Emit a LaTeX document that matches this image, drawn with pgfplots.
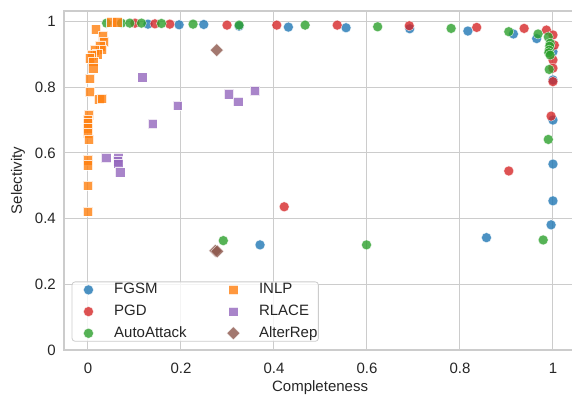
\documentclass[border=0pt]{standalone}
\usepackage{fontspec}
\setmainfont{Liberation Sans}
\usepackage{pgfplots}
\pgfplotsset{compat=1.18}
\definecolor{cF}{HTML}{1F77B4}
\definecolor{cP}{HTML}{D62728}
\definecolor{cA}{HTML}{2CA02C}
\definecolor{cI}{HTML}{FF7F0E}
\definecolor{cR}{HTML}{9467BD}
\definecolor{cT}{HTML}{8C564B}
\definecolor{txt}{HTML}{262626}
\definecolor{gridc}{HTML}{CCCCCC}
\begin{document}
\begin{tikzpicture}
\useasboundingbox (-64bp,-49bp) rectangle (508bp,350bp);
\begin{axis}[
  at={(0,0)}, anchor=south west,
  scale only axis, width=512.2bp, height=339bp,
  xmin=-0.0516, xmax=1.05, ymin=0, ymax=1.032,
  xtick={0,0.2,0.4,0.6,0.8,1}, xticklabels={0,0.2,0.4,0.6,0.8,1},
  ytick={0,0.2,0.4,0.6,0.8,1}, yticklabels={0,0.2,0.4,0.6,0.8,1},
  major tick length=0pt,
  grid=major, grid style={draw=gridc, line width=1bp},
  axis line style={draw=gridc, line width=1.2bp},
  tick label style={font=\fontsize{15bp}{18bp}\selectfont, text=txt},
  xticklabel style={inner sep=0pt, yshift=-13bp, anchor=north},
  yticklabel style={inner sep=0pt, xshift=-8bp, anchor=east},
  xlabel={Completeness}, ylabel={Selectivity},
  label style={font=\fontsize{15bp}{18bp}\selectfont, text=txt, inner sep=0pt},
  xlabel style={at={(axis description cs:0.5,0)}, anchor=base, yshift=-41bp},
  ylabel style={at={(axis description cs:-0.082,0.5)}, anchor=base, rotate=0},
  legend columns=3, transpose legend,
  legend cell align=left,
  legend image code/.code={\path (-15bp,0bp) (15bp,0bp); \draw[#1] plot coordinates {(0bp,0bp)};},
  legend style={
    at={(axis description cs:0.015,0.0245)}, anchor=south west,
    draw=gridc, line width=0.8bp, rounded corners=3bp,
    fill=white, fill opacity=0.8, text opacity=1, draw opacity=1,
    inner sep=1bp,
    font=\fontsize{15bp}{18bp}\selectfont, text=txt,
    row sep=7.7bp,
    nodes={inner sep=0pt, text height=11bp, text depth=3bp},
    /tikz/every odd column/.append style={column sep=10.3bp},
    /tikz/every even column/.append style={column sep=31.2bp},
  },
]
\addplot[only marks, mark=*, mark size=5bp, mark options={fill=cF, draw=white, line width=0.4bp, fill opacity=0.8, draw opacity=0.8}] coordinates {
(0.129,0.992) (0.196,0.990) (0.249,0.991) (0.325,0.986) (0.431,0.983) (0.555,0.981) (0.692,0.978) (0.817,0.971) (0.915,0.962) (0.965,0.948) (1.0,0.908) (1.0,0.822) (1.0,0.700) (1.0,0.566) (1.0,0.454) (0.996,0.381) (0.857,0.342) (0.370,0.320)
};
\addlegendentry{FGSM}
\addplot[only marks, mark=*, mark size=5bp, mark options={fill=cP, draw=white, line width=0.4bp, fill opacity=0.8, draw opacity=0.8}] coordinates {
(0.101,0.995) (0.144,0.993) (0.176,0.992) (0.299,0.989) (0.406,0.989) (0.536,0.989) (0.691,0.987) (0.836,0.982) (0.938,0.979) (0.986,0.974) (1.0,0.959) (1.003,0.928) (1.0,0.883) (1.0,0.858) (1.0,0.817) (0.996,0.712) (0.905,0.545) (0.422,0.436)
};
\addlegendentry{PGD}
\addplot[only marks, mark=*, mark size=5bp, mark options={fill=cA, draw=white, line width=0.4bp, fill opacity=0.8, draw opacity=0.8}] coordinates {
(0.040,0.995) (0.072,0.995) (0.090,0.995) (0.115,0.995) (0.158,0.994) (0.226,0.992) (0.325,0.989) (0.467,0.989) (0.623,0.984) (0.781,0.979) (0.905,0.969) (0.968,0.962) (0.990,0.953) (0.994,0.934) (0.993,0.925) (0.992,0.913) (0.991,0.905) (0.994,0.898) (0.992,0.854) (0.990,0.641) (0.979,0.335) (0.291,0.333) (0.599,0.320)
};
\addlegendentry{AutoAttack}
\addplot[only marks, mark=square*, mark size=4.7bp, mark options={fill=cI, draw=white, line width=0.4bp, fill opacity=0.8, draw opacity=0.8}] coordinates {
(0.017,0.976) (0.032,0.956) (0.034,0.938) (0.026,0.925) (0.030,0.915) (0.015,0.913) (0.020,0.900) (0.008,0.898) (0.004,0.888) (0.011,0.878) (0.011,0.858) (0.004,0.826) (0.004,0.786) (0.024,0.763) (0.030,0.765) (0.002,0.715) (0.0,0.700) (0.0,0.690) (0.0,0.675) (0.0,0.660) (0.002,0.640) (0.0,0.578) (0.0,0.563) (0.0,0.500) (0.0,0.421) (0.050,0.998) (0.063,0.998)
};
\addlegendentry{INLP}
\addplot[only marks, mark=square*, mark size=4.7bp, mark options={fill=cR, draw=white, line width=0.4bp, fill opacity=0.8, draw opacity=0.8}] coordinates {
(0.117,0.830) (0.193,0.744) (0.139,0.688) (0.303,0.779) (0.323,0.756) (0.359,0.789) (0.039,0.585) (0.065,0.586) (0.064,0.575) (0.065,0.568) (0.069,0.541)
};
\addlegendentry{RLACE}
\addplot[only marks, mark=square*, mark size=4.6bp, mark options={rotate=45, fill=cT, draw=white, line width=0.4bp, fill opacity=0.8, draw opacity=0.8}] coordinates {
(0.277,0.913) (0.274,0.302) (0.278,0.300)
};
\addlegendentry{AlterRep}
\end{axis}
\end{tikzpicture}
\end{document}
